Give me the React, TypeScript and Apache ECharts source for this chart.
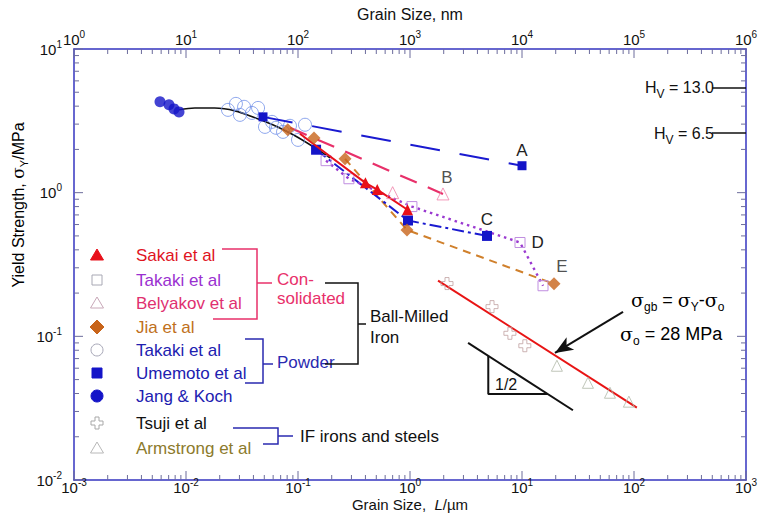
import React, { useEffect, useRef } from 'react';
import * as echarts from 'echarts';

const F = '"Liberation Sans", Arial, Helvetica, sans-serif';
const AX = '#3434c0';
const TICK = '#6c6c9c';

// ---- axes ----
const xDecadesUm = [-3, -2, -1, 0, 1, 2, 3];
const yDecades = [-2, -1, 0, 1];
const minorSteps = [2, 3, 4, 5, 6, 7, 8, 9];
const xRangeUm = [0.001, 1000];
const xRangeNm = [1, 1e6];
const yRange = [0.01, 10];

// ---- data (grain size L in µm, yield strength) ----
const jangKoch = [[0.00586, 4.29], [0.00705, 4.09], [0.00782, 3.83], [0.00866, 3.65]];
const takakiPowder = [
  [0.0237, 3.77], [0.0279, 4.15], [0.0303, 3.48], [0.033, 3.96], [0.0388, 3.59],
  [0.044, 3.89], [0.0507, 2.87], [0.0586, 3.11], [0.0636, 2.83], [0.0735, 2.65],
  [0.0848, 2.92], [0.1, 2.33], [0.1155, 2.97],
];
const fitCurve = [
  [0.0087, 3.78], [0.012, 3.88], [0.018, 3.88], [0.0274, 3.71], [0.0413, 3.32],
  [0.0623, 2.92], [0.094, 2.49], [0.142, 2.05], [0.193, 1.75],
];
const umemotoA = [[0.0487, 3.37], [10, 1.54]];
const umemotoC = [[0.145, 1.99], [0.96, 0.64], [4.87, 0.5]];
const sakaiStart = [0.104, 2.57];
const sakai = [[0.4, 1.17], [0.51, 1.05], [0.95, 0.76]];
const belyakovLine = [[0.085, 2.83], [1.97, 0.98]];
const belyakov = [[0.7, 1.0], [1.97, 0.98]];
const takakiCons = [[0.178, 1.67], [0.285, 1.25], [1.04, 0.8], [9.6, 0.45], [15.4, 0.225]];
const jia = [[0.081, 2.74], [0.139, 2.4], [0.263, 1.72], [0.94, 0.55], [19.3, 0.232]];
const tsuji = [[2.14, 0.233], [5.4, 0.161], [7.8, 0.105], [10.6, 0.086]];
const armstrong = [[20.5, 0.0624], [38.8, 0.0475], [61, 0.0405], [90, 0.0351]];
const hallPetchFit = [[1.78, 0.244], [106, 0.0319]];
const slopeLine = [[3.3, 0.09], [28.5, 0.0306]];
const slopeTriangle = [[5, 0.0731], [5, 0.0397], [17, 0.0397]];
const arrowLine = [[79.8, 0.148], [19.7, 0.0767]];
const hvLabels = ['13.0', '6.5'];
const hvValues = [5.4, 2.6];
const hvLineStart = 497;

const legendNames = ['Sakai et al', 'Takaki et al', 'Belyakov et al', 'Jia et al', 'Takaki et al', 'Umemoto et al', 'Jang & Koch', 'Tsuji et al', 'Armstrong et al'];
const legendTextColors = ['#e0141e', '#9a30d0', '#e03070', '#c07020', '#2020b0', '#2020b0', '#2020b0', '#111111', '#8c7a2c'];
const legendShapes = ['triangle', 'square', 'triangle', 'diamond', 'circle', 'square', 'circle', 'cross', 'triangle'];
const legendFills = ['#e8101a', 'none', 'none', '#c8641a', 'none', '#1414c8', '#1414c8', 'none', 'none'];
const legendStrokes = ['#e8101a', '#a8a8b4', '#c8a8b8', '#c8641a', '#a8a8b8', '#1414c8', '#1414c8', '#a8a8a8', '#b8b8b8'];
const legendRowY = [255, 280, 303, 327, 350, 373, 396, 423, 448];

const CROSS = 'path://M-1,-3L1,-3L1,-1L3,-1L3,1L1,1L1,3L-1,3L-1,1L-3,1L-3,-1L-1,-1Z';

const supRich = {
  b: { fontSize: 15, fontFamily: F, color: '#111' },
  s: { fontSize: 10, fontFamily: F, color: '#111', padding: [0, 0, 10, 0] },
};
const expLabel = (v: number) => `{b|10}{s|${Math.round(Math.log10(v))}}`;

// tick values: [value, length]
function tickValues(decs: number[]) {
  const out: number[][] = [];
  decs.forEach((d, i) => {
    out.push([Math.pow(10, d), 9]);
    if (i < decs.length - 1) minorSteps.forEach((m) => out.push([m * Math.pow(10, d), 5]));
  });
  return out;
}

function legendSymbol(shape: string, cx: number, cy: number, fill: string, stroke: string) {
  const style = { fill, stroke, lineWidth: 1 };
  if (shape === 'triangle') return { type: 'polygon', shape: { points: [[cx, cy - 6], [cx + 6.5, cy + 5], [cx - 6.5, cy + 5]] }, style };
  if (shape === 'square') return { type: 'rect', shape: { x: cx - 5, y: cy - 5, width: 10, height: 10 }, style };
  if (shape === 'diamond') return { type: 'polygon', shape: { points: [[cx, cy - 7], [cx + 7, cy], [cx, cy + 7], [cx - 7, cy]] }, style };
  if (shape === 'circle') return { type: 'circle', shape: { cx, cy, r: 6 }, style };
  const a = 2, b = 6;
  return {
    type: 'polygon',
    shape: {
      points: [[cx - a, cy - b], [cx + a, cy - b], [cx + a, cy - a], [cx + b, cy - a], [cx + b, cy + a], [cx + a, cy + a], [cx + a, cy + b], [cx - a, cy + b], [cx - a, cy + a], [cx - b, cy + a], [cx - b, cy - a], [cx - a, cy - a]],
    },
    style,
  };
}

const txt = (x: number, y: number, text: string, color: string, size = 17, align = 'left') => ({
  type: 'text', x, y, style: { text, fill: color, font: `${size}px ${F}`, align, verticalAlign: 'middle' },
});
const pl = (pts: number[][], color: string, w = 1.5) => ({
  type: 'polyline', shape: { points: pts }, style: { stroke: color, lineWidth: w, fill: 'none' },
});

const labelStyle = { show: true, color: '#222', fontSize: 17, fontFamily: F };

export default function App() {
  const ref = useRef<HTMLDivElement>(null);
  useEffect(() => {
    if (!ref.current) return;
    const chart = echarts.init(ref.current, undefined, { renderer: 'svg' });

    const graphic: any[] = [];
    legendNames.forEach((n, i) => {
      graphic.push(legendSymbol(legendShapes[i], 97, legendRowY[i], legendFills[i], legendStrokes[i]));
      graphic.push(txt(136, legendRowY[i], n, legendTextColors[i]));
    });
    const PINK = '#e8306a', BLUE = '#2a2ab0';
    graphic.push(pl([[222, 249], [257, 249], [257, 319], [213, 319]], PINK));
    graphic.push(pl([[257, 283], [272, 283]], PINK));
    graphic.push(txt(277, 279, 'Con-', PINK));
    graphic.push(txt(277, 298, 'solidated', PINK));
    graphic.push(pl([[245, 339], [263, 339], [263, 383], [245, 383]], BLUE));
    graphic.push(pl([[263, 364], [273, 364]], BLUE));
    graphic.push(txt(277, 362, 'Powder', BLUE));
    graphic.push(pl([[325, 283], [358, 283], [358, 364], [325, 364]], '#111'));
    graphic.push(pl([[358, 324], [366, 324]], '#111'));
    graphic.push(txt(370, 316, 'Ball-Milled', '#111'));
    graphic.push(txt(370, 337, 'Iron', '#111'));
    graphic.push(pl([[233, 428], [278, 428], [278, 444], [263, 444]], BLUE));
    graphic.push(pl([[278, 436], [293, 436]], BLUE));
    graphic.push(txt(300, 436, 'IF irons and steels', '#111'));
    graphic.push(txt(495, 384, '1/2', '#111', 16));
    const grk = {
      a: { fontSize: 18, fontFamily: F, color: '#111' },
      g: { fontSize: 19, fontFamily: '"DejaVu Serif", serif', color: '#111' },
      s: { fontSize: 12, fontFamily: F, color: '#111', padding: [14, 0, 0, 0] },
    };
    graphic.push({ type: 'text', x: 631, y: 300, style: { text: '{g|σ}{s|gb}{a| = }{g|σ}{s|Y}{a|-}{g|σ}{s|o}', rich: grk, verticalAlign: 'middle' } });
    graphic.push({ type: 'text', x: 620, y: 334, style: { text: '{g|σ}{s|o}{a| = 28 MPa}', rich: grk, verticalAlign: 'middle' } });
    graphic.push({
      type: 'text', x: 18, y: 205, rotation: Math.PI / 2,
      style: {
        text: '{a|Yield Strength, }{g|σ}{s|Y}{a|/MPa}', align: 'center', verticalAlign: 'middle',
        rich: {
          a: { fontSize: 16, fontFamily: F, color: '#111' },
          g: { fontSize: 17, fontFamily: '"DejaVu Serif", serif', color: '#111' },
          s: { fontSize: 11, fontFamily: F, color: '#111', padding: [12, 0, 0, 0] },
        },
      },
    });

    const base = {
      type: 'log', logBase: 10,
      axisLine: { show: true, onZero: false, lineStyle: { color: AX, width: 1.5 } },
      axisTick: { show: false }, minorTick: { show: false }, splitLine: { show: false },
    };
    const hvRich = {
      h: { fontSize: 16, fontFamily: F, color: '#111' },
      v: { fontSize: 12, fontFamily: F, color: '#111', padding: [14, 0, 0, 0] },
    };

    const option: any = {
      animation: false,
      backgroundColor: '#ffffff',
      grid: { left: 74, right: 17, top: 49, bottom: 35, containLabel: false, outerBoundsMode: 'none' },
      xAxis: [
        {
          ...base, position: 'bottom', min: xRangeUm[0], max: xRangeUm[1], splitNumber: 6,
          axisLabel: { formatter: expLabel, rich: supRich, margin: -3, showMinLabel: true, showMaxLabel: true },
          name: '{a|Grain Size,  }{i|L}{a|/µm}', nameLocation: 'middle', nameGap: 17, nameMoveOverlap: false,
          nameTextStyle: { rich: { a: { fontSize: 15, fontFamily: F, color: '#111' }, i: { fontSize: 15, fontFamily: F, fontStyle: 'italic', color: '#111' } } },
        },
        {
          ...base, position: 'top', min: xRangeNm[0], max: xRangeNm[1], splitNumber: 6,
          axisLabel: { formatter: expLabel, rich: supRich, margin: 0, showMinLabel: true, showMaxLabel: true },
          name: 'Grain Size, nm', nameLocation: 'middle', nameGap: 27, nameMoveOverlap: false,
          nameTextStyle: { fontSize: 16, fontFamily: F, color: '#111' },
        },
      ],
      yAxis: [
        {
          ...base, position: 'left', min: yRange[0], max: yRange[1], splitNumber: 3,
          axisLabel: { formatter: expLabel, rich: supRich, margin: 12, showMinLabel: true, showMaxLabel: true },
        },
        { ...base, position: 'right', min: yRange[0], max: yRange[1], splitNumber: 3, axisLabel: { show: false } },
      ],
      graphic,
      series: [
        {
          type: 'line', name: 'fit', data: fitCurve, smooth: 0.35, symbol: 'none', z: 3,
          lineStyle: { color: '#111', width: 1.6 },
          markLine: {
            silent: true, symbol: ['none', 'none'],
            lineStyle: { color: '#111', width: 1.5, type: 'solid' },
            data: hvValues.map((v, i) => [
              { coord: [hvLineStart, v], label: { show: true, position: 'start', distance: -2, formatter: `{h|H}{v|V}{h| = ${hvLabels[i]}}`, rich: hvRich } },
              { coord: [xRangeUm[1], v] },
            ]),
          },
        },
        {
          type: 'scatter', name: 'Takaki et al (powder)', data: takakiPowder, symbol: 'circle', symbolSize: 13, z: 4,
          itemStyle: { color: 'rgba(0,0,0,0)', borderColor: '#7090e8', borderWidth: 1 },
        },
        {
          type: 'scatter', name: 'Jang & Koch', data: jangKoch, symbol: 'circle', symbolSize: 11, z: 5,
          itemStyle: { color: '#1414c8' },
        },
        {
          type: 'line', name: 'Umemoto et al A', z: 5, symbol: 'rect', symbolSize: 9,
          data: umemotoA.map((p, i) => (i === umemotoA.length - 1 ? { value: p, label: { ...labelStyle, formatter: 'A', position: 'top', distance: 2 } } : p)),
          itemStyle: { color: '#1414c8' }, lineStyle: { color: '#1a1ad0', width: 2, type: [30, 20] },
        },
        {
          type: 'line', name: 'Umemoto et al C', z: 5, symbol: 'rect', symbolSize: 10,
          data: umemotoC.map((p, i) => (i === umemotoC.length - 1 ? { value: p, label: { ...labelStyle, formatter: 'C', position: 'top', distance: 3 } } : p)),
          itemStyle: { color: '#1414c8' }, lineStyle: { color: '#1a1ad0', width: 2, type: [12, 4, 3, 4] },
        },
        {
          type: 'line', name: 'Sakai et al', z: 6, symbol: 'triangle', symbolSize: 11,
          data: [{ value: sakaiStart, symbol: 'none' }, ...sakai],
          itemStyle: { color: '#e8101a' }, lineStyle: { color: '#e8101a', width: 2 },
        },
        {
          type: 'line', name: 'Belyakov fit', z: 4, symbol: 'none', data: belyakovLine,
          lineStyle: { color: '#e8306a', width: 2.2, type: [18, 12] },
        },
        {
          type: 'scatter', name: 'Belyakov et al', z: 6, symbol: 'triangle', symbolSize: 12,
          data: belyakov.map((p, i) => (i === belyakov.length - 1 ? { value: p, label: { ...labelStyle, formatter: 'B', position: 'top', distance: 1, offset: [4, 0] } } : p)),
          itemStyle: { color: 'rgba(0,0,0,0)', borderColor: '#f080a8', borderWidth: 1 },
        },
        {
          type: 'line', name: 'Takaki et al (consolidated)', z: 5, symbol: 'rect', symbolSize: 10,
          data: takakiCons.map((p, i) => (i === 3 ? { value: p, label: { ...labelStyle, formatter: 'D', position: 'right', distance: 6 } } : p)),
          itemStyle: { color: 'rgba(0,0,0,0)', borderColor: '#c08ee0', borderWidth: 1 },
          lineStyle: { color: '#9a3ad0', width: 2.4, type: [2.5, 4] },
        },
        {
          type: 'line', name: 'Jia fit', z: 4, symbol: 'none', data: jia.slice(2),
          lineStyle: { color: '#d0802c', width: 2, type: [8, 6] },
        },
        {
          type: 'scatter', name: 'Jia et al', z: 6, symbol: 'diamond', symbolSize: 13,
          data: jia.map((p, i) => (i === jia.length - 1 ? { value: p, label: { ...labelStyle, formatter: 'E', position: 'top', distance: 2, offset: [8, 0] } } : p)),
          itemStyle: { color: '#c8641a' },
        },
        {
          type: 'line', name: 'Hall-Petch', z: 4, symbol: 'none', data: hallPetchFit,
          lineStyle: { color: '#e81414', width: 2 },
          markLine: {
            silent: true, symbol: ['none', 'arrow'], symbolSize: [11, 18],
            lineStyle: { color: '#111', width: 2, type: 'solid' }, label: { show: false },
            data: [[{ coord: arrowLine[0] }, { coord: arrowLine[1] }]],
          },
        },
        { type: 'line', name: 'slope', z: 4, symbol: 'none', data: slopeLine, lineStyle: { color: '#111', width: 2 } },
        { type: 'line', name: 'slope triangle', z: 4, symbol: 'none', data: slopeTriangle, lineStyle: { color: '#111', width: 2 } },
        {
          type: 'scatter', name: 'Tsuji et al', z: 5, symbol: CROSS, symbolSize: 12, data: tsuji,
          itemStyle: { color: 'rgba(0,0,0,0)', borderColor: '#c0a0a0', borderWidth: 1 },
        },
        {
          type: 'scatter', name: 'Armstrong et al', z: 5, symbol: 'triangle', symbolSize: 11, data: armstrong,
          itemStyle: { color: 'rgba(0,0,0,0)', borderColor: '#b0b8a8', borderWidth: 1 },
        },
      ],
    };
    chart.setOption(option);

    // axis ticks, positioned through the chart's own log scales
    const tickEls: any[] = [];
    const tickLine = (x1: number, y1: number, x2: number, y2: number) => ({
      type: 'line', silent: true, z: 10, shape: { x1, y1, x2, y2 }, style: { stroke: TICK, lineWidth: 1 },
    });
    const finder = { xAxisIndex: 0, yAxisIndex: 0 };
    tickValues(xDecadesUm).forEach(([v, len]) => {
      const b = chart.convertToPixel(finder, [v, yRange[0]]) as number[];
      const t = chart.convertToPixel(finder, [v, yRange[1]]) as number[];
      if (!b || !t) return;
      tickEls.push(tickLine(b[0], b[1], b[0], b[1] - len));
      tickEls.push(tickLine(t[0], t[1], t[0], t[1] + len));
    });
    tickValues(yDecades).forEach(([v, len]) => {
      const l = chart.convertToPixel(finder, [xRangeUm[0], v]) as number[];
      const r = chart.convertToPixel(finder, [xRangeUm[1], v]) as number[];
      if (!l || !r) return;
      tickEls.push(tickLine(l[0], l[1], l[0] + len, l[1]));
      tickEls.push(tickLine(r[0], r[1], r[0] - len, r[1]));
    });
    chart.setOption({ graphic: [...graphic, ...tickEls] });

    return () => chart.dispose();
  }, []);
  return <div ref={ref} style={{ position: 'absolute', left: 0, top: 0, width: 763, height: 515 }} />;
}
